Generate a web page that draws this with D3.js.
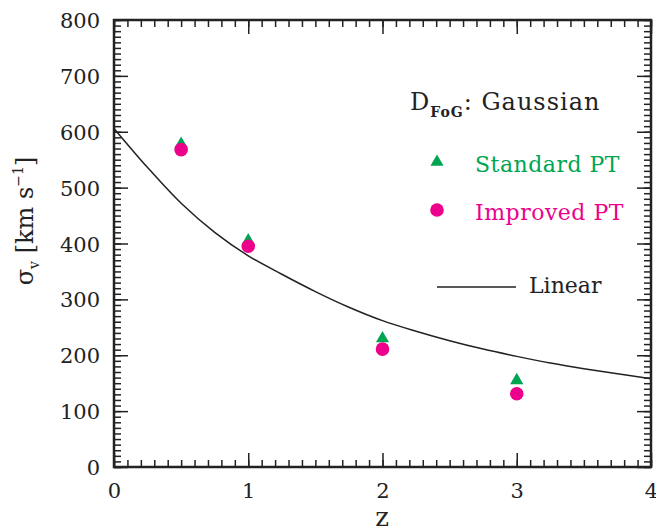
<!DOCTYPE html>
<html>
<head>
<meta charset="utf-8">
<script src="https://cdn.jsdelivr.net/npm/d3@7"></script>
<style>
  body { margin: 0; background: #fff; }
  text { font-family: "DejaVu Serif", serif; }
</style>
</head>
<body>
<div id="chart"></div>
<script>
// data
var redshifts = [0.5, 1, 2, 3];
var standardPT = [578, 405, 230, 155];
var improvedPT = [568, 395, 211, 131];

// linear theory curve, read at a few redshifts
var linearZ = [0, 0.25, 0.5, 0.75, 1, 1.25, 1.5, 1.75, 2, 2.25, 2.5, 2.75, 3, 3.25, 3.5, 3.75, 4];
var linearSigma = [606, 536, 472, 420, 378, 345, 314, 286, 262, 243, 226, 211, 198, 186, 176, 167, 158];

var xTicks = [0, 1, 2, 3, 4];
var yTicks = [0, 100, 200, 300, 400, 500, 600, 700, 800];

var green = "#00a551";
var pink = "#ec008c";

// work area
var svgWidth = 656;
var svgHeight = 527;
var margin = { top: 20, right: 5, bottom: 60, left: 114 };
var width = svgWidth - margin.left - margin.right;
var height = svgHeight - margin.top - margin.bottom;

var svg = d3.select("#chart")
    .append("svg")
    .attr("width", svgWidth)
    .attr("height", svgHeight);

var g = svg.append("g")
    .attr("transform", `translate(${margin.left}, ${margin.top})`);

var x = d3.scaleLinear().domain([0, 4]).range([0, width]);
var y = d3.scaleLinear().domain([0, 800]).range([height, 0]);

var xMinor = d3.range(0, 40.5, 1).map(d => d / 10);
var yMinor = d3.range(0, 801, 10);

// axes: ticks point inward on all four sides
function drawAxis(axis, tx, ty, major, minor, labels) {
    var grp = g.append("g").attr("transform", `translate(${tx}, ${ty})`);
    grp.call(axis.tickValues(minor).tickSizeInner(-7).tickSizeOuter(0).tickFormat(""));
    var grp2 = g.append("g").attr("transform", `translate(${tx}, ${ty})`);
    grp2.call(axis.tickValues(major).tickSizeInner(-14).tickSizeOuter(0)
        .tickFormat(labels ? d3.format("d") : ""));
    [grp, grp2].forEach(function (s) {
        s.selectAll(".domain").remove();
        s.selectAll(".tick line").attr("stroke", "#222").attr("stroke-width", 1.5);
    });
    return grp2;
}

var bottom = drawAxis(d3.axisBottom(x), 0, height, xTicks, xMinor, true);
bottom.selectAll(".tick text")
    .attr("y", 16).attr("dy", "0.72em")
    .attr("font-size", 21).attr("fill", "#222")
    .style("font-family", "DejaVu Serif");
drawAxis(d3.axisTop(x), 0, 0, xTicks, xMinor, false);

var left = drawAxis(d3.axisLeft(y), 0, 0, yTicks, yMinor, true);
left.selectAll(".tick text")
    .attr("x", -14).attr("dy", "0.36em")
    .attr("font-size", 21).attr("fill", "#222")
    .style("font-family", "DejaVu Serif");
drawAxis(d3.axisRight(y), width, 0, yTicks, yMinor, false);

// frame
g.append("rect")
    .attr("width", width)
    .attr("height", height)
    .attr("fill", "none")
    .attr("stroke", "#222")
    .attr("stroke-width", 2.5);

// linear curve
var line = d3.line()
    .x((d, i) => x(linearZ[i]))
    .y(d => y(d))
    .curve(d3.curveCatmullRom);

g.append("path")
    .datum(linearSigma)
    .attr("d", line)
    .attr("fill", "none")
    .attr("stroke", "#222")
    .attr("stroke-width", 1.5);

// points
var tri = d3.symbol().type(d3.symbolTriangle).size(75);

g.selectAll(".std")
    .data(standardPT)
    .enter()
    .append("path")
    .attr("class", "std")
    .attr("d", tri)
    .attr("transform", (d, i) => `translate(${x(redshifts[i])}, ${y(d)})`)
    .attr("fill", green);

g.selectAll(".imp")
    .data(improvedPT)
    .enter()
    .append("circle")
    .attr("class", "imp")
    .attr("cx", (d, i) => x(redshifts[i]))
    .attr("cy", d => y(d))
    .attr("r", 6.8)
    .attr("fill", pink);

// legend
var title = svg.append("text")
    .attr("x", 410).attr("y", 110)
    .attr("font-size", 24).attr("letter-spacing", 1).attr("fill", "#222");
title.append("tspan").text("D");
title.append("tspan").attr("dy", 7).attr("font-size", 14).attr("font-weight", "bold").text("FoG");
title.append("tspan").attr("dy", -7).text(": Gaussian");

svg.append("path")
    .attr("d", tri)
    .attr("transform", "translate(437, 162)")
    .attr("fill", green);
svg.append("text")
    .attr("x", 475).attr("y", 172)
    .attr("font-size", 22).attr("letter-spacing", 0.5).attr("fill", green)
    .text("Standard PT");

svg.append("circle")
    .attr("cx", 437).attr("cy", 210).attr("r", 6.8)
    .attr("fill", pink);
svg.append("text")
    .attr("x", 475).attr("y", 220)
    .attr("font-size", 22).attr("letter-spacing", 0.5).attr("fill", pink)
    .text("Improved PT");

svg.append("line")
    .attr("x1", 437).attr("x2", 516)
    .attr("y1", 287).attr("y2", 287)
    .attr("stroke", "#222").attr("stroke-width", 1.5);
svg.append("text")
    .attr("x", 529).attr("y", 293)
    .attr("font-size", 22).attr("fill", "#222")
    .text("Linear");

// axis labels
svg.append("text")
    .attr("x", 382).attr("y", 526)
    .attr("text-anchor", "middle")
    .attr("font-size", 26).attr("fill", "#222")
    .text("z");

var ylab = svg.append("text")
    .attr("transform", "translate(33, 221) rotate(-90)")
    .attr("text-anchor", "middle")
    .attr("font-size", 24).attr("fill", "#222");
ylab.append("tspan").text("σ");
ylab.append("tspan").attr("dy", 6).attr("font-size", 14).text("v");
ylab.append("tspan").attr("dy", -6).text(" [km s");
ylab.append("tspan").attr("dy", -10).attr("font-size", 14).text("−1");
ylab.append("tspan").attr("dy", 10).text("]");
</script>
</body>
</html>
